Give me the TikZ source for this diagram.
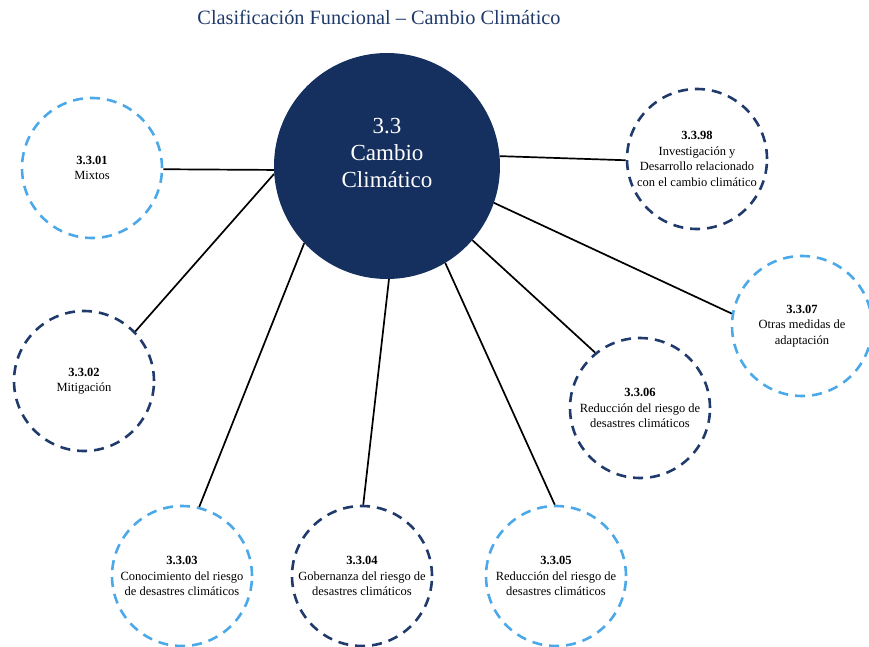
\documentclass[tikz,border=0pt]{standalone}
\usepackage{fontspec}
\setmainfont{Liberation Serif}
\definecolor{navy}{HTML}{15305F}
\definecolor{dashnavy}{HTML}{1F3A6B}
\definecolor{skyblue}{HTML}{4BA9E9}
\begin{document}
\begin{tikzpicture}[x=1pt,y=-1pt,
        sat/.style={circle, minimum size=140pt, inner sep=0pt, line width=2.6pt,
            dash pattern=on 10pt off 7pt, align=center,
            font=\fontsize{12.5}{15.5}\selectfont},
        light/.style={sat, draw=skyblue},
        dark/.style={sat, draw=dashnavy},
        link/.style={line width=1.7pt}]
        \useasboundingbox (0,0) rectangle (869,647);
        % title
        \node[text=dashnavy, font=\fontsize{20.3}{23}\selectfont] (title) at (379,17) {Clasificación Funcional – Cambio Climático};
        % central circle
        \node[circle, fill=navy, minimum size=226pt, inner sep=0pt] (cc) at (387,166) {};
        \node[text=white, align=center, font=\fontsize{23}{27}\selectfont] (cctext) at (387,153) {3.3\\Cambio\\Climático};
        % satellites
        \node[light] (c01) at (92,168) {\textbf{3.3.01}\\Mixtos};
        \node[dark] (c02) at (84,381) {\textbf{3.3.02}\\Mitigación};
        \node[light] (c03) at (182,576) {\textbf{3.3.03}\\Conocimiento del riesgo\\de desastres climáticos};
        \node[dark] (c04) at (362,576) {\textbf{3.3.04}\\Gobernanza del riesgo de\\desastres climáticos};
        \node[light] (c05) at (556,576) {\textbf{3.3.05}\\Reducción del riesgo de\\desastres climáticos};
        \node[dark] (c06) at (640,408) {\textbf{3.3.06}\\Reducción del riesgo de\\desastres climáticos};
        \node[light] (c07) at (802,326) {\textbf{3.3.07}\\Otras medidas de\\adaptación};
        \node[dark] (c98) at (697,159) {\textbf{3.3.98}\\Investigación y\\Desarrollo relacionado\\con el cambio climático};
        % links
        \draw[link] (cc.182.5) -- (c01.-1);
        \draw[link] (cc.184) -- (c02.44);
        \draw[link] (cc.223) -- (c03.76);
        \draw[link] (cc.271.5) -- (c04.89);
        \draw[link] (cc.301) -- (c05.91);
        \draw[link] (cc.319) -- (c06.129);
        \draw[link] (cc.341) -- (c07.170);
        \draw[link] (cc.5) -- (c98.181);
    \end{tikzpicture}
\end{document}
